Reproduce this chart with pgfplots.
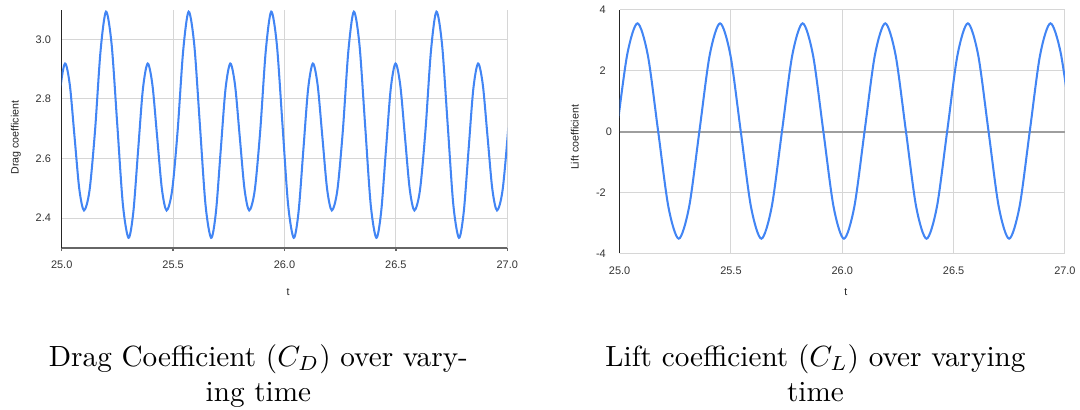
\documentclass[border=0pt]{standalone}
\usepackage{pgfplots}
\pgfplotsset{compat=1.18}
\usepackage{fontspec}
\newfontfamily\chartfont{Liberation Sans}
\definecolor{gline}{HTML}{4285F4}
\definecolor{gridgray}{HTML}{D6D6D6}
\definecolor{axisgray}{HTML}{666666}
\definecolor{zerogray}{HTML}{9E9E9E}
\definecolor{ticktext}{HTML}{333333}
\definecolor{titletext}{HTML}{222222}
\pgfplotsset{
  gchart/.style={
    scale only axis, anchor=south west,
    xmin=25, xmax=27,
    xtick={25,25.5,26,26.5,27},
    xticklabels={25.0,25.5,26.0,26.5,27.0},
    grid=major,
    major grid style={draw=gridgray, line width=0.35pt},
    tick label style={font=\chartfont\fontsize{3.75}{4}\selectfont, text=ticktext, inner sep=0pt},
    yticklabel style={anchor=east, xshift=-2.4pt},
    label style={font=\chartfont\fontsize{3.65}{4}\selectfont, text=titletext},
    axis lines=left,
    axis line style={-},
    y axis line style={draw=black!85, line width=0.4pt},
    ytick style={draw=none},
  }
}
\begin{document}
\begin{tikzpicture}
\path[use as bounding box] (0,0) rectangle (369.9pt,140.4pt);
% ---------------- Drag ----------------
\begin{axis}[gchart,
  at={(21.13pt,55.48pt)}, width=152.6pt, height=81.64pt,
  ymin=2.3, ymax=3.1,
  ytick={2.4,2.6,2.8,3.0}, yticklabels={2.4,2.6,2.8,3.0},
  x axis line style={draw=axisgray, line width=0.6pt},
  xtick style={draw=axisgray, line width=0.45pt},
  tick align=outside, major tick length=1.1pt,
  xticklabel style={anchor=north, yshift=-3.0pt},
  xlabel={t}, xlabel style={at={(axis description cs:0.508,-0.1847)}, anchor=center},
  ylabel={Drag coefficient}, ylabel style={at={(axis description cs:-0.103,0.463)}, anchor=center},
]
\addplot[color=gline, line width=0.7pt, smooth, no marks] coordinates {
(24.9039,2.445)
(24.9292,2.334) (24.9507,2.420) (24.9722,2.627) (24.9937,2.833)
(25.0152,2.919) (25.0365,2.847) (25.0577,2.673) (25.0790,2.498)
(25.1002,2.426) (25.1249,2.493) (25.1496,2.693) (25.1743,2.960)
(25.1990,3.093) (25.2243,2.982) (25.2495,2.714) (25.2748,2.445)
(25.3000,2.334) (25.3215,2.420) (25.3430,2.627) (25.3645,2.833)
(25.3860,2.919) (25.4073,2.847) (25.4285,2.673) (25.4498,2.498)
(25.4710,2.426) (25.4957,2.493) (25.5204,2.693) (25.5451,2.960)
(25.5698,3.093) (25.5951,2.982) (25.6203,2.714) (25.6456,2.445)
(25.6708,2.334) (25.6923,2.420) (25.7138,2.627) (25.7353,2.833)
(25.7568,2.919) (25.7781,2.847) (25.7993,2.673) (25.8206,2.498)
(25.8418,2.426) (25.8665,2.493) (25.8912,2.693) (25.9159,2.960)
(25.9406,3.093) (25.9659,2.982) (25.9911,2.714) (26.0164,2.445)
(26.0416,2.334) (26.0631,2.420) (26.0846,2.627) (26.1061,2.833)
(26.1276,2.919) (26.1489,2.847) (26.1701,2.673) (26.1914,2.498)
(26.2126,2.426) (26.2373,2.493) (26.2620,2.693) (26.2867,2.960)
(26.3114,3.093) (26.3367,2.982) (26.3619,2.714) (26.3872,2.445)
(26.4124,2.334) (26.4339,2.420) (26.4554,2.627) (26.4769,2.833)
(26.4984,2.919) (26.5197,2.847) (26.5409,2.673) (26.5622,2.498)
(26.5834,2.426) (26.6081,2.493) (26.6328,2.693) (26.6575,2.960)
(26.6822,3.093) (26.7075,2.982) (26.7327,2.714) (26.7580,2.445)
(26.7832,2.334) (26.8047,2.420) (26.8262,2.627) (26.8477,2.833)
(26.8692,2.919) (26.8905,2.847) (26.9117,2.673) (26.9330,2.498)
(26.9542,2.426) (26.9789,2.493) (27.0036,2.693) (27.0283,2.960)
(27.0530,3.093)
};
\end{axis}
% ---------------- Lift ----------------
\begin{axis}[gchart,
  at={(212.23pt,53.66pt)}, width=152.5pt, height=83.33pt,
  ymin=-4, ymax=4,
  ytick={-4,-2,2,4}, yticklabels={-4,-2,2,4},
  extra y ticks={0}, extra y tick labels={0},
  extra y tick style={major tick length=0pt, major grid style={draw=zerogray, line width=0.7pt}},
  x axis line style={draw=none},
  xtick style={draw=none},
  xticklabel style={anchor=north, yshift=-2.4pt},
  xlabel={t}, xlabel style={at={(axis description cs:0.508,-0.159)}, anchor=center},
  ylabel={Lift coefficient}, ylabel style={at={(axis description cs:-0.1005,0.476)}, anchor=center},
]
\addplot[color=gline, line width=0.7pt, smooth, no marks] coordinates {
(24.9873,0.02) (25.0336,2.52) (25.0800,3.56) (25.1264,2.52) (25.1728,0.02)
(25.2191,-2.48) (25.2655,-3.52) (25.3119,-2.48) (25.3583,0.02) (25.4046,2.52)
(25.4510,3.56) (25.4974,2.52) (25.5438,0.02) (25.5901,-2.48) (25.6365,-3.52)
(25.6829,-2.48) (25.7293,0.02) (25.7756,2.52) (25.8220,3.56) (25.8684,2.52)
(25.9148,0.02) (25.9611,-2.48) (26.0075,-3.52) (26.0539,-2.48) (26.1003,0.02)
(26.1466,2.52) (26.1930,3.56) (26.2394,2.52) (26.2858,0.02) (26.3321,-2.48)
(26.3785,-3.52) (26.4249,-2.48) (26.4713,0.02) (26.5176,2.52) (26.5640,3.56)
(26.6104,2.52) (26.6568,0.02) (26.7031,-2.48) (26.7495,-3.52) (26.7959,-2.48)
(26.8423,0.02) (26.8886,2.52) (26.9350,3.56) (26.9814,2.58) (27.0278,0.25)
};
\end{axis}
% ---------------- Captions ----------------
\node[anchor=base] at (88.5pt,14.9pt) {Drag Coefficient ($C_D$) over vary-};
\node[anchor=base] at (88.5pt,2.9pt) {ing time};
\node[anchor=base] at (279.3pt,14.9pt) {Lift coefficient ($C_L$) over varying};
\node[anchor=base] at (279.3pt,2.9pt) {time};
\end{tikzpicture}
\end{document}
